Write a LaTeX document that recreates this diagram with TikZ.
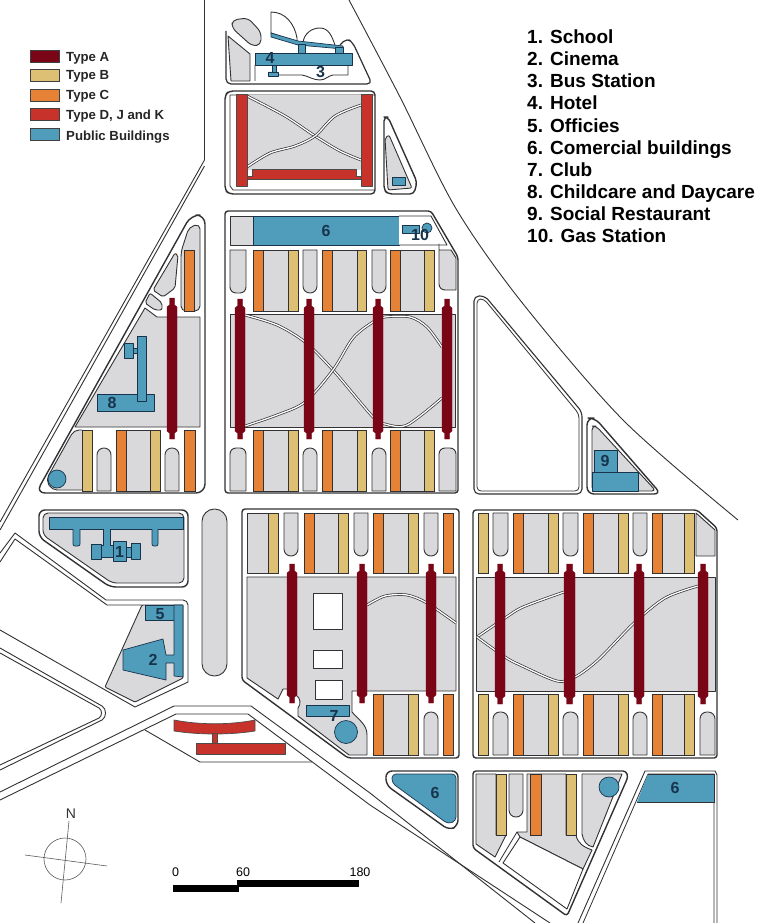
\documentclass[tikz,border=0pt]{standalone}
\usepackage{fontspec}
\setmainfont{Liberation Sans}
\usepackage{xcolor}
\definecolor{mapline}{RGB}{50,50,52}
\definecolor{maplot}{RGB}{217,216,219}
\definecolor{maptypea}{RGB}{122,5,22}
\definecolor{maptypeb}{RGB}{221,192,116}
\definecolor{maptypec}{RGB}{229,130,53}
\definecolor{maptyped}{RGB}{199,50,43}
\definecolor{mappublic}{RGB}{79,157,187}
\definecolor{mapnumber}{RGB}{24,52,76}
\tikzstyle{road} = [draw=mapline, line width=0.9pt, line join=round]
\tikzstyle{edge} = [draw=mapline, fill=white, line width=1.4pt, line join=round]
\tikzstyle{lot} = [draw=mapline, fill=maplot, line width=0.9pt, line join=round]
\tikzstyle{whitelot} = [draw=mapline, fill=white, line width=0.9pt, line join=round]
\tikzstyle{typea} = [draw=maptypea, fill=maptypea, line width=0.4pt]
\tikzstyle{typeb} = [draw=mapline, fill=maptypeb, line width=0.8pt]
\tikzstyle{typec} = [draw=mapline, fill=maptypec, line width=0.8pt]
\tikzstyle{typed} = [draw=black!70, fill=maptyped, line width=0.7pt, line join=round]
\tikzstyle{publicb} = [draw=mapnumber, fill=mappublic, line width=0.7pt, line join=round]
\tikzstyle{walkway} = [draw=mapline, double=white, double distance=1.3pt, line width=0.7pt]
\tikzstyle{mapnum} = [font=\fontsize{16}{16}\selectfont\bfseries, text=mapnumber, inner sep=0pt]
\tikzstyle{legendtext} = [font=\fontsize{13.2}{14}\selectfont\bfseries, text=black!85, anchor=base west, inner sep=0pt]
\tikzstyle{keytext} = [font=\fontsize{19}{19}\selectfont\bfseries, anchor=base west, inner sep=0pt]
\tikzstyle{scaletext} = [font=\fontsize{12.5}{13}\selectfont, inner sep=0pt]
% orange slab, lawn, yellow slab
\newcommand{\mapunit}[6]{
    \fill[maplot] (#2,#5) rectangle (#3,#6);
    \draw[mapline, line width=0.8pt] (#2,#5) -- (#3,#5) (#2,#6) -- (#3,#6);
    \draw[typec] (#1,#5) rectangle (#2,#6);
    \draw[typeb] (#3,#5) rectangle (#4,#6);
}
% long bar with narrow ends
\newcommand{\mapbar}[4]{
    \fill[typea] (#1+2.5,#3-7) -- (#2-2.5,#3-7) -- (#2-2.5,#3) -- (#2,#3+2) -- (#2,#4-2) -- (#2-2.5,#4)
        -- (#2-2.5,#4+6) -- (#1+2.5,#4+6) -- (#1+2.5,#4) -- (#1,#4-2) -- (#1,#3+2) -- (#1+2.5,#3) -- cycle;
}
% rounded at one end
\newcommand{\pilldown}[4]{
    \draw[lot] (#1,#3) [rounded corners=6.8pt] -- (#1,#4) -- (#2,#4) [sharp corners] -- (#2,#3) -- cycle;
}
\newcommand{\pillup}[4]{
    \draw[lot] (#1,#4) [rounded corners=6.8pt] -- (#1,#3) -- (#2,#3) [sharp corners] -- (#2,#4) -- cycle;
}

\begin{document}
\begin{tikzpicture}[x=1pt, y=-1pt]
    \useasboundingbox (0,0) rectangle (782,923);
    \fill[white] (0,0) rectangle (782,923);

    % Main roads
    \draw[road] (204.5,0) -- (204.5,160) -- (0,522);
    \draw[road] (204.5,166) -- (0,530);
    \draw[road] plot[smooth] coordinates {(349,0) (400,97) (455,207) (520,300) (623,420) (738,520)};
    \draw[road] (0,553) -- (15,533) -- (106,600) -- (183,600) to[out=0,in=90] (188,605) -- (188,682) -- (135,707) -- (0,630);
    \draw[road] (0,562) -- (15,539) -- (107,605) -- (142,605);
    \draw[road] (0,648) -- (102,706) to[out=-30,in=30] (102,720) -- (0,770);
    \draw[road] (0,653) -- (99,708) to[out=-30,in=30] (99,718) -- (0,765);
    \draw[road] (0,792) -- (174,706) -- (251,706) -- (370,793) -- (535,923);
    \draw[road] (0,800) -- (176,714) -- (248,714) -- (370,805) -- (550,923);
    \draw[road] (145,730) -- (200,762) -- (312,762);

    % Hotel and bus station block
    \draw[lot, fill=white, line width=1.2pt, rounded corners=5pt] (226,31) -- (226,84) -- (372,84) -- (353,43) -- (347,38) -- (340,45);
    \draw[lot] (228,36) -- (250,54) -- (250,81) -- (231,81) -- cycle;
    \draw[lot, rounded corners=5pt] (232,20) -- (248,18) -- (261,32) -- (261,45) -- (252,46) -- (232,28) -- cycle;
    \draw[whitelot] (271,12) to[out=0,in=100] (297,38) -- (297,42) -- (271,33) -- cycle;
    \draw[whitelot] (303,42) to[out=80,in=180] (320,28) to[out=0,in=110] (335,45);
    \draw[publicb] (271,33) -- (298,41) -- (343,46) -- (343,49) -- (298,45) -- (271,37) -- cycle;
    \draw[publicb] (298,44) rectangle (305,53) (335,47) rectangle (343,53);
    \draw[whitelot] (255,65) -- (255,81) (348,65) -- (348,75) -- (333,75) to[out=190,in=0] (320,80) to[out=180,in=-10] (302,75) -- (278,75);
    \draw[publicb] (272,65) rectangle (276,72) (268,72) rectangle (278,76);
    \draw[publicb] (255,53) rectangle (352,65);
    \node[mapnum] (num4) at (270,58) {4};
    \node[mapnum] (num3) at (320.5,72) {3};

    % Red slab block
    \draw[edge, rounded corners=4pt] (375,91) -- (229,91) -- (225,95) -- (225,190) -- (229,194) -- (375,194) -- cycle;
    \draw[road, line width=0.8pt] (230,95) -- (375,95) (230,95) -- (230,186) -- (233,190) -- (375,190);
    \fill[maplot] (247,95) rectangle (361,170);
    \draw[walkway] plot[smooth] coordinates {(247,96) (285,116) (315,136) (340,151) (361,160)};
    \draw[walkway] plot[smooth] coordinates {(247,167) (270,153) (295,146) (315,136) (335,116) (361,105)};
    \draw[typed] (236,94) rectangle (247,186);
    \draw[typed] (361,94) rectangle (372,186);
    \draw[typed] (252,169) -- (356,169) -- (356,176) -- (361,176) -- (361,179) -- (247,179) -- (247,176) -- (252,176) -- cycle;

    % Narrow wedge
    \draw[edge, rounded corners=4pt] (384,117) -- (388,117) -- (417,182) -- (414,194) -- (388,194) -- (384,190) -- cycle;
    \draw[lot, rounded corners=2pt] (385,138) -- (389,135) -- (412,188) -- (388,190) -- cycle;
    \draw[publicb] (392,177) rectangle (405,185);

    % Upper middle block
    \draw[edge, rounded corners=3pt] (225,493) -- (225,211) -- (431,211) -- (458,257) -- (458,493) -- cycle;
    \draw[lot] (230,216) rectangle (253,245);
    \draw[publicb] (253,216) rectangle (399,245);
    \draw[whitelot] (399,216) -- (431,216) -- (447,245) -- (399,245);
    \draw[publicb] (427,228) circle[radius=5];
    \draw[publicb] (402,225) rectangle (419,233);
    \node[mapnum] (num6a) at (326,231) {6};
    \node[mapnum] (num10) at (420,235) {10};
    \draw[lot] (230,250) -- (246,250) [rounded corners=6pt] -- (246,293) -- (230,293) [sharp corners] -- cycle;
    \draw[lot] (230,491) -- (246,491) [rounded corners=6pt] -- (246,448) -- (230,448) [sharp corners] -- cycle;
    \draw[lot] (439,250) -- (451,250) -- (456,258) -- (456,290) [rounded corners=6pt] -- (439,290) -- (439,250) [sharp corners] -- cycle;
    \draw[lot] (456,491) -- (439,491) [rounded corners=6pt] -- (439,448) -- (456,448) [sharp corners] -- cycle;
    \foreach \xa/\xb/\xc/\xd in {253/263/288/298, 322/332/357/366, 390/400/424/434} {
        \mapunit{\xa}{\xb}{\xc}{\xd}{250}{311}
        \mapunit{\xa}{\xb}{\xc}{\xd}{430}{491}
    }
    \foreach \xa/\xb in {303/317, 372/386} {
        \pilldown{\xa}{\xb}{250}{293}
        \pillup{\xa}{\xb}{448}{491}
    }
    \draw[lot] (230,314) rectangle (455,427);
    \draw[walkway] plot[smooth] coordinates {(245,315) (277,325) (305,342) (333,370) (373,417) (385,424) (407,425) (442,398)};
    \draw[walkway] plot[smooth] coordinates {(245,426) (277,415) (305,402) (333,370) (353,338) (373,322) (385,317) (410,317) (427,327) (442,347)};
    \foreach \xa/\xb in {235/245, 304/314, 373/383, 442/452} {
        \mapbar{\xa}{\xb}{306}{433}
    }

    % Triangular block on the left
    \draw[edge, rounded corners=9pt] (205,493) -- (36,493) -- (191,215) -- (205,215) -- cycle;
    \draw[lot, rounded corners=5pt] (181,311) -- (181,252) -- (189,227) -- (200,224) -- (200,311) -- cycle;
    \draw[typec] (184,250) rectangle (194,311);
    \draw[lot, rounded corners=2pt] (175,253) -- (153,290) -- (163,297) -- (175,288) -- (178,255) -- cycle;
    \draw[lot, rounded corners=2pt] (145,303) -- (150,293) -- (162,303) -- (162,310) -- (155,310) -- cycle;
    \draw[lot] (145,308) -- (157,317) -- (200,317) -- (200,427) -- (75,427) -- cycle;
    \draw[publicb] (97,394) rectangle (154,411);
    \draw[publicb] (137,336) rectangle (146,401);
    \draw[publicb] (133,348) rectangle (137,353);
    \draw[publicb] (124,343) rectangle (133,358);
    \node[mapnum] (num8) at (112,403) {8};
    \mapbar{167}{177}{305}{433}
    \draw[lot, rounded corners=5pt] (82,430) -- (74,430) -- (46,480) -- (52,490) -- (82,490);
    \draw[typeb] (82,430) rectangle (92,491);
    \pillup{97}{111}{448}{491}
    \mapunit{116}{126}{150}{160}{430}{491}
    \pillup{165}{179}{448}{491}
    \draw[typec] (184,430) rectangle (195,491);
    \draw[publicb] (57,479) circle[radius=9];

    % School block
    \draw[edge, rounded corners=6pt] (39,510) -- (188,510) -- (188,587) -- (110,587) -- (39,537) -- cycle;
    \draw[lot, rounded corners=5pt] (43,513) -- (184,513) -- (184,583) -- (112,583) -- (43,535) -- cycle;
    \draw[publicb] (49,517) -- (183,517) -- (183,529) -- (49,529) -- cycle;
    \draw[publicb, rounded corners=2pt] (73,529) -- (73,546) -- (80,546) -- (80,529);
    \draw[publicb, rounded corners=2pt] (152,529) -- (152,546) -- (158,546) -- (158,529);
    \draw[publicb] (103,529) -- (103,545) -- (101,545) -- (101,557) -- (113,557) -- (113,545) -- (110,545) -- (110,529);
    \draw[publicb] (91,544) rectangle (101,559);
    \draw[publicb] (126,547) rectangle (131,557);
    \draw[publicb] (131,543) rectangle (140,559);
    \draw[publicb] (113,541) rectangle (126,561);
    \node[mapnum] (num1) at (119.5,552) {1};

    % Offices and cinema block
    \draw[lot, rounded corners=1pt] (142,605) -- (105,687) -- (135,702) -- (183,678) -- (183,605) -- cycle;
    \draw[publicb] (145,605) rectangle (175,620);
    \draw[publicb] (174,605) -- (183,605) -- (183,677) -- (174,676) -- (174,663) -- (166,663) -- (166,680) -- (123,670) -- (123,650) -- (163,639) -- (166,655) -- (174,655) -- cycle;
    \node[mapnum] (num5) at (160,614) {5};
    \node[mapnum] (num2) at (153,660) {2};

    % Long plaza and lower red building
    \draw[lot, rounded corners=12.4pt] (202,509) rectangle (227,676);
    \draw[typed] (174,720) .. controls (200,725) and (230,725) .. (255,720) -- (255,731) .. controls (230,735) and (200,735) .. (174,731) -- cycle;
    \draw[typed] (212,733) rectangle (217,743);
    \draw[typed] (196,743) rectangle (285,754);

    % Club block
    \draw[edge, rounded corners=3pt] (242,680) -- (242,509) -- (459,509) -- (459,758) -- (348,758) -- cycle;
    \draw[lot] (247,513) rectangle (268,573);
    \draw[typeb] (268,513) rectangle (278,573);
    \pilldown{284}{298}{513}{556}
    \mapunit{304}{314}{338}{348}{513}{573}
    \pilldown{354}{368}{513}{556}
    \mapunit{373}{383}{408}{418}{513}{573}
    \pilldown{424}{438}{513}{556}
    \draw[typec] (443,513) rectangle (453,573);
    \draw[lot] (247,577) -- (456,577) -- (456,691) -- (352,691) -- (352,712) to[out=-50,in=90] (367,735) -- (367,755) -- (349,755) -- (298,716) -- (298,708) to[out=50,in=-30] (296,695) -- (287,689) -- (283,689) -- (278,699) -- (247,678) -- cycle;
    \foreach \wx/\wy/\wxb/\wyb in {313/593/342/629, 313/650/342/668, 315/680/342/699} {
        \draw[whitelot] (\wx,\wy) rectangle (\wxb,\wyb);
    }
    \draw[walkway] plot[smooth] coordinates {(367,605) (385,596) (407,595) (427,603) (456,623)};
    \mapunit{373}{383}{408}{418}{694}{755}
    \pillup{424}{438}{712}{755}
    \draw[typec] (443,694) rectangle (453,755);
    \foreach \xa/\xb in {287/297, 357/367, 426/436} {
        \mapbar{\xa}{\xb}{571}{697}
    }
    \draw[publicb] (306,705) rectangle (349,716);
    \draw[publicb] (346,732) circle[radius=11.5];
    \node[mapnum] (num7) at (334,716) {7};

    % Big lawn block
    \draw[edge, line width=1.1pt, rounded corners=5pt] (474,494) -- (474,296) -- (485,296) -- (582,412) -- (582,494) -- cycle;
    \draw[road, line width=0.8pt, rounded corners=4pt] (477,491) -- (477,299) -- (484,299) -- (579,414) -- (579,491) -- cycle;

    % Social restaurant block
    \draw[edge, rounded corners=7pt] (587,494) -- (587,418) -- (595,418) -- (661,494) -- cycle;
    \draw[lot, rounded corners=4pt] (592,491) -- (592,426) -- (596,426) -- (656,491) -- cycle;
    \draw[publicb] (594,450) rectangle (617,472);
    \draw[publicb] (592,472) rectangle (638,491);
    \node[mapnum] (num9) at (605,461) {9};

    % Right lower block
    \draw[edge, rounded corners=3pt] (473,758) -- (473,510) -- (697,510) -- (717,528) -- (717,758) -- cycle;
    \foreach \xa/\xb/\xc/\xd in {513/523/548/558, 583/593/618/628, 652/662/684/694} {
        \mapunit{\xa}{\xb}{\xc}{\xd}{513}{573}
        \mapunit{\xa}{\xb}{\xc}{\xd}{694}{755}
    }
    \draw[typeb] (478,513) rectangle (488,573);
    \draw[typeb] (478,694) rectangle (488,755);
    \foreach \xa/\xb in {493/508, 563/578, 633/647} {
        \pilldown{\xa}{\xb}{513}{556}
    }
    \foreach \xa/\xb in {493/508, 563/578, 633/647, 700/715} {
        \pillup{\xa}{\xb}{712}{755}
    }
    \draw[lot] (696,513) -- (715,530) -- (715,556) -- (696,556) -- cycle;
    \draw[lot] (476,577) rectangle (715,691);
    \draw[walkway] plot[smooth] coordinates {(564,592) (523,607) (505,618) (477,637)};
    \draw[walkway] plot[smooth] coordinates {(477,637) (505,657) (520,665) (557,681) (575,677) (598,660) (634,623) (665,598) (698,586)};
    \foreach \xa/\xb in {495/505, 564/575, 634/644, 698/708} {
        \mapbar{\xa}{\xb}{571}{698}
    }

    % Commercial triangle
    \draw[edge, rounded corners=6pt] (386,771) -- (458,771) -- (458,826) -- (449,830) -- (386,785) -- cycle;
    \draw[publicb, rounded corners=4pt] (392,774) -- (456,774) -- (456,821) -- (448,824) -- (392,783) -- cycle;
    \node[mapnum] (num6b) at (435,793) {6};

    % Bottom block
    \draw[edge, rounded corners=3pt] (473,771) -- (626,771) -- (628,777) -- (567,916) -- (473,848) -- cycle;
    \draw[lot] (476,774) -- (496,774) -- (496,835) -- (506,835) -- (495,857) -- (476,844) -- cycle;
    \draw[lot] (527,774) -- (566,774) -- (566,835) -- (576,835) to[out=-80,in=160] (592,850) -- (583,869) -- (520,837) -- (517,832) -- (527,832) -- cycle;
    \draw[lot] (582,774) -- (622,774) -- (593,847) to[out=170,in=-80] (582,834) -- cycle;
    \draw[typeb] (496,774) rectangle (506,835);
    \pilldown{509}{523}{774}{817}
    \draw[typec] (530,774) rectangle (541,835);
    \draw[typeb] (566,774) rectangle (576,835);
    \draw[whitelot] (520,837) -- (583,869) -- (567,909) -- (503,863) -- cycle;
    \draw[road, line width=0.8pt] (517,832) -- (499,862);
    \draw[publicb] (609,787) circle[radius=10];

    % Right corner plot
    \draw[road] (578,923) -- (645,771) -- (715,771) -- (717,775) -- (717,923);
    \draw[road, line width=0.8pt] (583,923) -- (648,774) -- (714,774) -- (714,923);
    \fill[mappublic] (648,774) -- (714,774) -- (714,802) -- (637,802) -- cycle;
    \draw[mapline, line width=0.8pt] (637,802) -- (714,802) -- (714,774) -- (648,774);
    \node[mapnum] (num6c) at (675,788) {6};

    % Legend
    \foreach \ly/\lbase/\lstyle/\ltext [count=\li] in {50/62/maptypea/Type A, 69.5/80/maptypeb/Type B, 89/100/maptypec/Type C, 108/120/maptyped/Type D{,} J and K, 128/140/mappublic/Public Buildings} {
        \draw[draw=black!75, fill=\lstyle, line width=0.6pt] (30,\ly) rectangle (59,\ly+12);
        \node[legendtext, name=legend\li] at (66,\lbase) {\ltext};
    }

    % Key of buildings
    \foreach \ky/\ktext [count=\ki] in {44/1. School, 66/2. Cinema, 88/3. Bus Station, 110/4. Hotel, 132/5. Officies, 154/6. Comercial buildings, 176/7. Club, 198/8. Childcare and Daycare, 220/9. Social Restaurant, 242/10. Gas Station} {
        \node[keytext, name=key\ki] at (527,\ky) {\ktext};
    }

    % Compass
    \draw[mapline!80, line width=0.6pt] (65,859) circle[radius=21];
    \coordinate (northend) at (69,821);
    \coordinate (southend) at (61,903);
    \coordinate (westend) at (25,855);
    \coordinate (eastend) at (107,866);
    \draw[mapline!80, line width=0.6pt] (northend) -- (southend);
    \draw[mapline!80, line width=0.6pt] (westend) -- (eastend);
    \node[scaletext, font=\fontsize{14}{14}\selectfont, text=mapline] (north) at (71,814) {N};

    % Scale bar
    \fill[black] (173,885) rectangle (239,892);
    \fill[black] (237,880) rectangle (359,887);
    \node[scaletext] (scalea) at (175.5,872.5) {0};
    \node[scaletext] (scaleb) at (243,872.5) {60};
    \node[scaletext] (scalec) at (360,872.5) {180};
\end{tikzpicture}
\end{document}
